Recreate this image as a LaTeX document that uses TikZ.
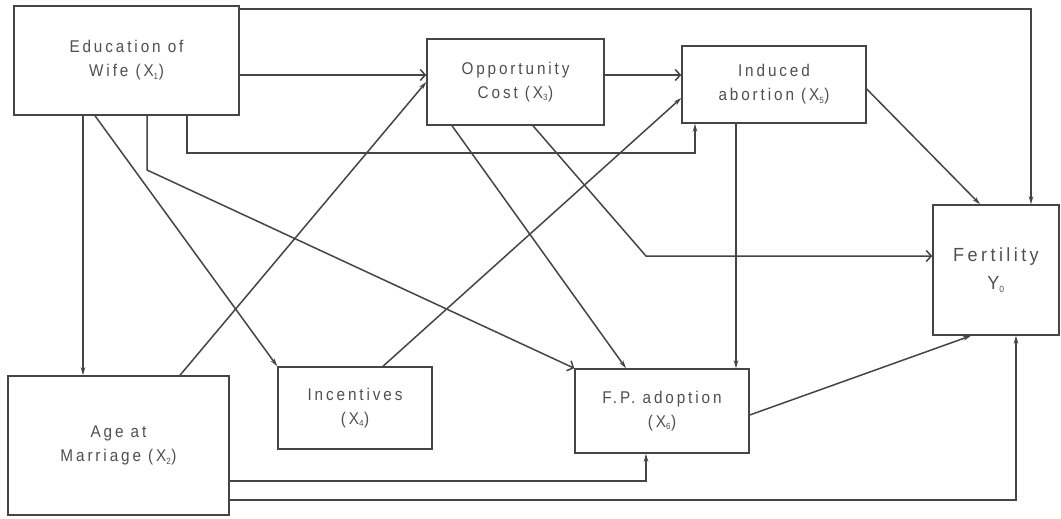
\documentclass[tikz,border=0pt]{standalone}
\usepackage{fontspec}
\setmainfont{Liberation Sans}
\newfontfamily\boxfont[LetterSpace=17,FakeStretch=0.9]{Liberation Sans}
\newfontfamily\bigfont[LetterSpace=18,FakeStretch=0.95]{Liberation Sans}
\usetikzlibrary{arrows.meta}
\definecolor{ln}{HTML}{454545}
\definecolor{tx}{HTML}{505050}
\newcommand{\sbs}[1]{\textsubscript{\fontsize{9}{9}\selectfont #1}}
\begin{document}
\begin{tikzpicture}[x=1pt,y=-1pt,
  box/.style={draw=ln,line width=1.5pt,rectangle,inner sep=0pt,align=center,
    text=tx,font=\boxfont\fontsize{17}{24}\selectfont},
  arr/.style={draw=ln,line width=1.5pt,-{Stealth[length=8pt,width=4.5pt]}},
  oarr/.style={draw=ln,line width=1.5pt,-{Straight Barb[length=5pt,width=11pt]}}]
\useasboundingbox (0,0) rectangle (1061,519);
\fill[white] (0,0) rectangle (1061,519);
% boxes
\node[box,minimum width=225pt,minimum height=109pt] (X1) at (126.5,60.5) {Education of\\Wife (X\sbs{1})};
\node[box,minimum width=177pt,minimum height=86pt] (X3) at (515.5,82) {Opportunity\\Cost (X\sbs{3})};
\node[box,minimum width=184pt,minimum height=77pt] (X5) at (774,84.5) {Induced\\abortion (X\sbs{5})};
\node[box,minimum width=126pt,minimum height=130pt,font=\bigfont\fontsize{19}{28}\selectfont] (Y0) at (996,270) {Fertility\\Y\sbs{0}};
\node[box,minimum width=221pt,minimum height=139pt] (X2) at (118.5,445.5) {Age at\\Marriage (X\sbs{2})};
\node[box,minimum width=154pt,minimum height=82pt] (X4) at (355,408) {Incentives\\(X\sbs{4})};
\node[box,minimum width=174pt,minimum height=84pt] (X6) at (662,411) {F.P. adoption\\(X\sbs{6})};
% helper coordinates
\coordinate (c1) at (1031,9);
\coordinate (c2) at (0,75);
\coordinate (c3a) at (187,153);
\coordinate (c3b) at (695,153);
\coordinate (c4) at (83,0);
\coordinate (c5) at (95,0);
\coordinate (c6) at (147,170);
\coordinate (c7) at (180,0);
\coordinate (c8a) at (383,0);
\coordinate (c8b) at (0,98);
\coordinate (c10a) at (452,0);
\coordinate (c10b) at (626,0);
\coordinate (c11a) at (533,0);
\coordinate (c11b) at (646,256);
\coordinate (c12) at (736,0);
\coordinate (c13a) at (0,89);
\coordinate (c13b) at (980,0);
\coordinate (c14a) at (0,415);
\coordinate (c14b) at (971,0);
\coordinate (c15) at (646,481);
\coordinate (c16) at (1016,500);
% connectors
\draw[arr] (X1.east |- c1) -- (c1) -- (Y0.north -| c1);
\draw[oarr] (X1.east |- c2) -- (X3.west |- c2);
\draw[arr] (X1.south -| c3a) -- (c3a) -- (c3b) -- (X5.south -| c3b);
\draw[arr] (X1.south -| c4) -- (X2.north -| c4);
\draw[arr] (X1.south -| c5) -- (X4.north west);
\draw[oarr] (X1.south -| c6) -- (c6) -- (X6.north west);
\draw[arr] (X2.north -| c7) -- (X3.west);
\draw[arr] (X4.north -| c8a) -- (X5.west |- c8b);
\draw[oarr] (X3.east |- c2) -- (X5.west |- c2);
\draw[arr] (X3.south -| c10a) -- (X6.north -| c10b);
\draw[oarr] (X3.south -| c11a) -- (c11b) -- (Y0.west |- c11b);
\draw[arr] (X5.south -| c12) -- (X6.north -| c12);
\draw[arr] (X5.east |- c13a) -- (Y0.north -| c13b);
\draw[arr] (X6.east |- c14a) -- (Y0.south -| c14b);
\draw[arr] (X2.east |- c15) -- (c15) -- (X6.south -| c15);
\draw[arr] (X2.east |- c16) -- (c16) -- (Y0.south -| c16);
\end{tikzpicture}
\end{document}
